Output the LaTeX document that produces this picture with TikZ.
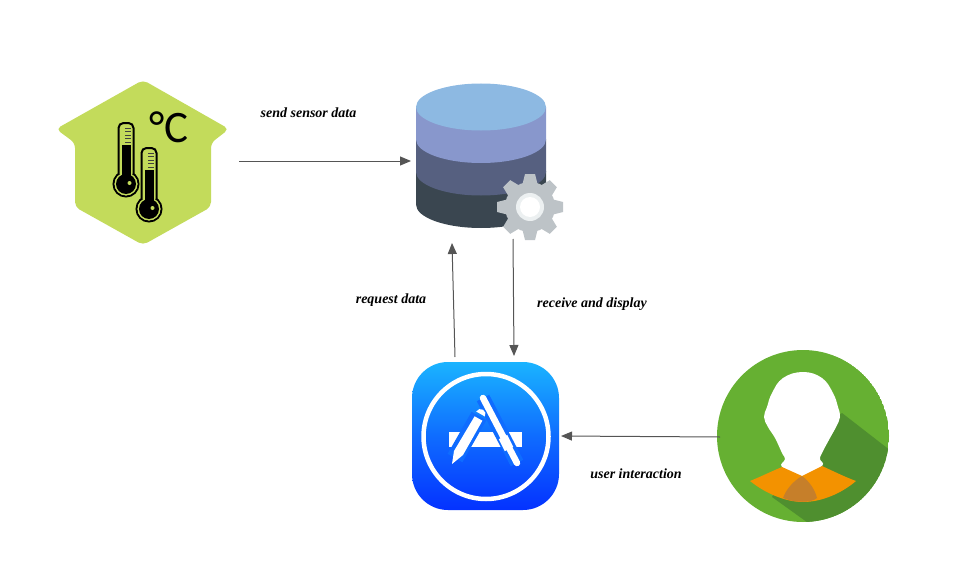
\documentclass[tikz,border=0pt]{standalone}
\usepackage{fontspec}
\setmainfont{Liberation Serif}
\newfontfamily\iconfont{Carlito}
\usepackage{xcolor}
\usetikzlibrary{arrows.meta,positioning}

\definecolor{sensorgreen}{HTML}{C3DB5B}
\definecolor{dbtop}{HTML}{8DB9E2}
\definecolor{dbone}{HTML}{8897CC}
\definecolor{dbtwo}{HTML}{566080}
\definecolor{dbthree}{HTML}{3A4650}
\definecolor{gearcol}{HTML}{BDC3C7}
\definecolor{gearlight}{HTML}{ECF0F1}
\definecolor{apptop}{HTML}{1AB4FF}
\definecolor{appbottom}{HTML}{0432FF}
\definecolor{appmid}{HTML}{0F6CFF}
\definecolor{usergreen}{HTML}{66B032}
\definecolor{usershadow}{HTML}{4F8F2F}
\definecolor{collar}{HTML}{F39200}
\definecolor{collardark}{HTML}{C67F2A}
\definecolor{linecol}{HTML}{555555}

\tikzset{
  iconbox/.style={draw=none,inner sep=0pt,outer sep=0pt},
  flow/.style={draw=linecol,line width=1pt,-{Triangle[length=11pt,width=9pt]}},
  flowlabel/.style={font=\bfseries\itshape\fontsize{14}{16}\selectfont,text=black,inner sep=0pt},
}

\begin{document}
\begin{tikzpicture}[x=1pt,y=-1pt]
  \useasboundingbox (0,0) rectangle (956,586);

  % sensor icon
  \fill[sensorgreen,rounded corners=5pt] (143,80) -- (229,129) -- (211,143) -- (211,207)
    -- (143,245) -- (75,207) -- (75,143) -- (56,129) -- cycle;
  \foreach \x/\y in {126/184,149/209} {
    \begin{scope}[shift={(\x,\y)}]
      \draw[line width=2pt,fill=sensorgreen] (0,0) circle (12.5);
      \draw[line width=2pt,fill=sensorgreen,rounded corners=5pt] (-7.5,-5) rectangle (7.5,-61);
      \fill[sensorgreen] (0,0) circle (11.5);
      \fill[black] (0,0) circle (10);
      \fill[black] (-4.5,-5) rectangle (4.5,-39);
      \fill[sensorgreen] (3.5,-1) circle (2);
      \foreach \t in {-56,-52.5,-49,-45.5,-42}
        \draw[line width=1pt,black!75] (-1,\t) -- (4.5,\t);
    \end{scope}
  }
  \node[iconbox,text=black,font=\iconfont\fontsize{45}{45}\selectfont] (degrees) at (169,127) {°C};

  % database icon
  \fill[dbthree] (416,171) -- (416,204.5) arc[start angle=180,end angle=0,x radius=65,y radius=23.5]
    -- (546,171) -- cycle;
  \fill[dbtwo] (416,139) -- (416,172) arc[start angle=180,end angle=0,x radius=65,y radius=23.5]
    -- (546,139) -- cycle;
  \fill[dbone] (416,107) -- (416,139.5) arc[start angle=180,end angle=0,x radius=65,y radius=23.5]
    -- (546,107) -- cycle;
  \fill[dbtop] (481,107) ellipse[x radius=65,y radius=23.5];
  \fill[gearcol] (530,207) circle (25);
  \foreach \a in {0,45,...,315}
    \fill[gearcol,rotate around={\a:(530,207)}] (525,174) -- (535,174) -- (539,190) -- (521,190) -- cycle;
  \fill[gearlight] (530,207) circle (14);
  \fill[white] (530,207) circle (10);

  % app icon
  \shade[top color=apptop,bottom color=appbottom,middle color=appmid,rounded corners=36pt]
    (412,362) rectangle (559,510);
  \draw[white,line width=4.5pt] (486,436.5) circle (62.5);
  \fill[white] (449,432) rectangle (522,447);
  \draw[appmid,line width=17pt] (479,416) -- (455,458);
  \draw[appmid,line width=14pt] (483,398) -- (517,463);
  \draw[white,line width=6.5pt,line cap=round] (483,398) -- (517,463);
  \draw[white,line width=9.5pt] (503,437) -- (509,449);
  \fill[white] (474.6,416.3) -- (482.4,420.7) -- (463,455) -- (452,464) -- (454,451) -- cycle;
  \fill[white] (476.2,411.5) arc[start angle=210,end angle=390,radius=5] -- cycle;

  % user icon
  \begin{scope}
    \clip (803,436) circle (86);
    \fill[usergreen] (803,436) circle (86);
    \fill[usershadow] (842,413) -- (900,458) -- (900,530) -- (818,530) -- (772,497) -- (803,440) -- cycle;
  \end{scope}
  \fill[white] plot[smooth cycle,tension=0.7] coordinates {(803,372) (822,378) (833,393) (838,407) (840,417)
    (836,427) (830,438) (822,453) (820,459) (822,466) (802,476) (782,467) (785,459) (782,453) (775,438)
    (768,427) (764,417) (767,407) (772,393) (783,378)};
  \fill[collar] (802,476) -- (782,467) .. controls (770,472) and (760,477) .. (750,481)
    .. controls (765,493) and (785,502) .. (803,502)
    .. controls (822,502) and (842,493) .. (856,481)
    .. controls (845,477) and (833,471) .. (822,466) -- cycle;
  \fill[collardark] (802,476) .. controls (792,482) and (786,490) .. (783,498)
    .. controls (795,503) and (811,503) .. (817,498)
    .. controls (815,490) and (810,482) .. (802,476) -- cycle;

  % icon boxes
  \node[iconbox,minimum width=180pt,minimum height=162pt] (sensor) at (149,161) {};
  \node[iconbox,minimum width=152pt,minimum height=154pt] (database) at (487,161) {};
  \node[iconbox,minimum width=150pt,minimum height=148pt] (app) at (486,436) {};
  \node[iconbox,minimum width=166pt,minimum height=172pt] (user) at (803,437) {};

  \coordinate (dbin) at (452,243);
  \coordinate (dbout) at (513,239);
  \coordinate (appout) at (455,357);
  \coordinate (appin) at (514,356);

  \draw[flow] (sensor.east) -- (database.west);
  \draw[flow] (appout) -- (dbin);
  \draw[flow] (dbout) -- (appin);
  \draw[flow] (user.west) -- (app.east);

  \node[flowlabel] (sendlabel) at (308.5,113) {send sensor data};
  \node[flowlabel] (requestlabel) at (391,300) {request data};
  \node[flowlabel] (receivelabel) at (592,304) {receive and display};
  \node[flowlabel] (userlabel) at (636,474) {user interaction};
\end{tikzpicture}
\end{document}
